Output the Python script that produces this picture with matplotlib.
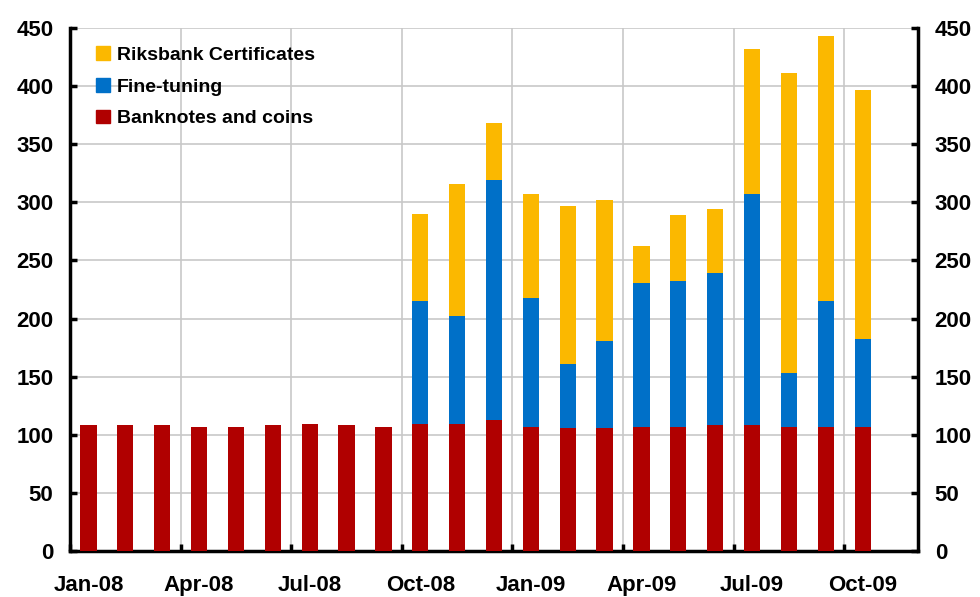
import matplotlib.pyplot as plt
from matplotlib.patches import Patch

plt.rcParams['font.family'] = ['Liberation Sans', 'DejaVu Sans']
plt.rcParams['font.weight'] = 'bold'

MONTHS = ['Jan-08', 'Feb-08', 'Mar-08', 'Apr-08', 'May-08', 'Jun-08', 'Jul-08', 'Aug-08',
          'Sep-08', 'Oct-08', 'Nov-08', 'Dec-08', 'Jan-09', 'Feb-09', 'Mar-09', 'Apr-09',
          'May-09', 'Jun-09', 'Jul-09', 'Aug-09', 'Sep-09', 'Oct-09']
BANKNOTES = [108, 108, 108, 107, 107, 108, 109, 108, 107, 109, 109, 113,
             107, 106, 106, 107, 107, 108, 108, 107, 107, 107]
FINE_TUNING = [0, 0, 0, 0, 0, 0, 0, 0, 0, 106, 93, 206,
               111, 55, 75, 124, 125, 131, 199, 46, 108, 75]
CERTIFICATES = [0, 0, 0, 0, 0, 0, 0, 0, 0, 75, 114, 49,
                89, 136, 121, 31, 57, 55, 125, 258, 228, 215]

RED = '#B00000'
BLUE = '#0070C8'
YELLOW = '#FBB800'

fig = plt.figure(figsize=(9.8, 5.97), dpi=100)
ax = fig.add_axes([70 / 980, 1 - 551 / 597, 848 / 980, 523 / 597])

x = list(range(len(MONTHS)))
mid = [b + f for b, f in zip(BANKNOTES, FINE_TUNING)]
w = 0.44
ax.bar(x, BANKNOTES, width=w, color=RED, zorder=3)
ax.bar(x, FINE_TUNING, width=w, bottom=BANKNOTES, color=BLUE, zorder=3)
ax.bar(x, CERTIFICATES, width=w, bottom=mid, color=YELLOW, zorder=3)

ax.set_xlim(-0.5, 22.5)
ax.set_ylim(0, 450)
ax.set_yticks(range(0, 451, 50))

# ticks sit on month boundaries, labels in the middle of the month
ax.set_xticks([i - 0.5 for i in range(0, 23, 3)])
ax.set_xticklabels([])
ax.set_xticks(x[::3], minor=True)
ax.set_xticklabels(MONTHS[::3], minor=True)
ax.tick_params(axis='x', which='major', direction='in', length=5, width=2.5)
ax.tick_params(axis='x', which='minor', length=0, pad=17, labelsize=16)
ax.tick_params(axis='y', direction='in', length=5, width=2.5, labelsize=16,
               right=True, labelright=True, pad=12)

ax.grid(True, which='major', color='#c8c8c8', linewidth=1.2, zorder=0)
ax.set_axisbelow(True)
ax.spines['top'].set_visible(False)
for s in ['left', 'right', 'bottom']:
    ax.spines[s].set_linewidth(2.5)

handles = [Patch(color=YELLOW), Patch(color=BLUE), Patch(color=RED)]
labels = ['Riksbank Certificates', 'Fine-tuning', 'Banknotes and coins']
ax.legend(handles, labels, loc='upper left', bbox_to_anchor=(0.031, 0.965), frameon=False,
          fontsize=14, handlelength=0.7, handleheight=0.7, handletextpad=0.35,
          labelspacing=0.72, borderaxespad=0, borderpad=0)

fig.savefig('out.png', dpi=100)
